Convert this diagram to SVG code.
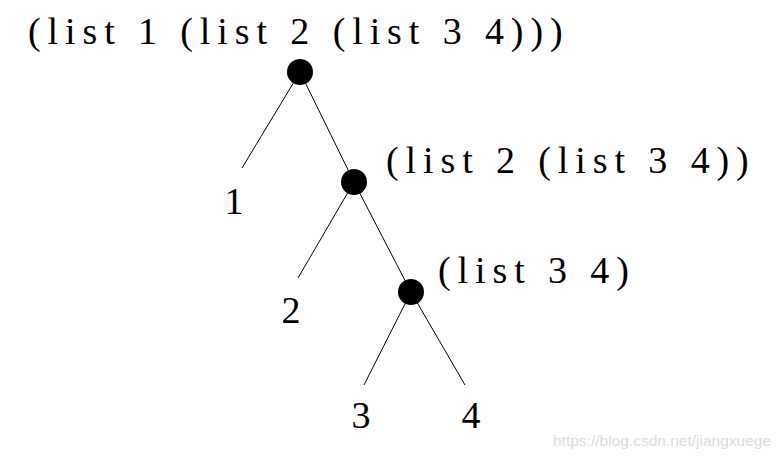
<svg xmlns="http://www.w3.org/2000/svg" width="780" height="456" viewBox="0 0 780 456">
<style>
.t{font-family:"Liberation Serif","DejaVu Serif",serif;font-size:38px;fill:#000;letter-spacing:6.9px}
.d{font-family:"Liberation Serif","DejaVu Serif",serif;font-size:38px;fill:#000;text-anchor:middle}
.e{stroke:#000;stroke-width:1;fill:none}
.n{fill:#000}
.w{font-family:"Liberation Sans",Arial,sans-serif;font-size:15px;fill:#dcdcdc}
</style>
<rect width="780" height="456" fill="#fff"/>
<g id="connectors">
<line class="e" x1="300" y1="72" x2="242" y2="168"/>
<line class="e" x1="300" y1="72" x2="354" y2="182"/>
<line class="e" x1="354" y1="182" x2="298" y2="278"/>
<line class="e" x1="354" y1="182" x2="411" y2="292"/>
<line class="e" x1="411" y1="292" x2="364" y2="385"/>
<line class="e" x1="411" y1="292" x2="465" y2="385"/>
</g>
<g id="node-root"><circle class="n" cx="300" cy="72" r="13"/><text class="t" x="28" y="44">(list 1 (list 2 (list 3 4)))</text></g>
<g id="node-mid"><circle class="n" cx="354" cy="182" r="13"/><text class="t" x="386" y="173">(list 2 (list 3 4))</text></g>
<g id="node-low"><circle class="n" cx="411" cy="292" r="13"/><text class="t" x="438" y="283">(list 3 4)</text></g>
<g id="leaf-1"><text class="d" x="234" y="214">1</text></g>
<g id="leaf-2"><text class="d" x="291" y="323">2</text></g>
<g id="leaf-3"><text class="d" x="361" y="428">3</text></g>
<g id="leaf-4"><text class="d" x="471" y="428">4</text></g>
<text class="w" x="553" y="446" textLength="218" lengthAdjust="spacingAndGlyphs">https://blog.csdn.net/jiangxuege</text>
</svg>
